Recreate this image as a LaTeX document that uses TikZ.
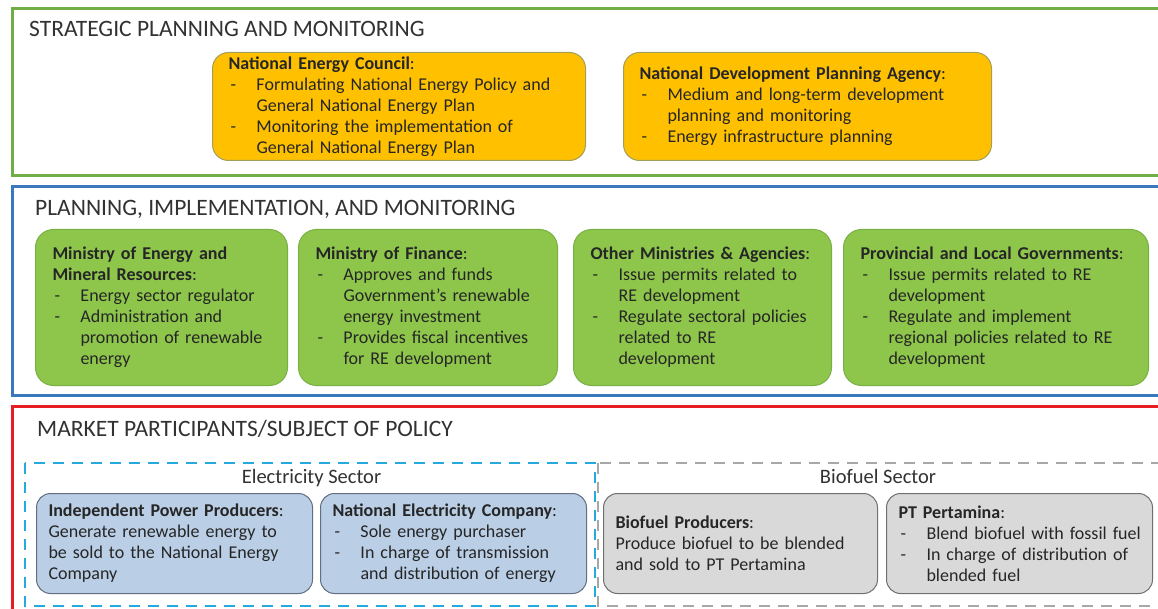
\documentclass[tikz,border=0pt]{standalone}
\usepackage{fontspec}
\setmainfont{Carlito}
\usetikzlibrary{positioning}

\definecolor{stratline}{RGB}{112,173,71}
\definecolor{implline}{RGB}{58,120,190}
\definecolor{marketline}{RGB}{230,30,36}
\definecolor{councilfill}{RGB}{255,192,0}
\definecolor{councilline}{RGB}{160,160,90}
\definecolor{ministryfill}{RGB}{141,198,75}
\definecolor{ministryline}{RGB}{120,176,68}
\definecolor{powerfill}{RGB}{186,206,230}
\definecolor{powerline}{RGB}{98,110,130}
\definecolor{fuelfill}{RGB}{217,217,217}
\definecolor{fuelline}{RGB}{112,112,112}
\definecolor{elecdash}{RGB}{38,170,222}
\definecolor{fueldash}{RGB}{168,168,168}
\definecolor{titletext}{RGB}{50,50,50}

\newcommand{\itemdash}{\makebox[28pt][l]{\hspace{2pt}-}}
\newcommand{\itemcont}{\hspace*{28pt}}
\newcommand{\orghead}[1]{\textbf{#1}:}

\begin{document}
\begin{tikzpicture}[
      x=1pt, y=-1pt,
      font=\fontsize{18}{21}\selectfont,
      text=black!85,
      panel/.style={line width=3pt},
      paneltitle/.style={anchor=base west, inner sep=0pt, text=titletext,
        font=\fontsize{23.5}{27}\selectfont},
      orgbox/.style={rounded corners=16pt, align=left, inner xsep=16pt,
        inner ysep=0pt},
      council/.style={orgbox, draw=councilline, fill=councilfill, line width=1pt,
        minimum height=108pt},
      ministry/.style={orgbox, rounded corners=18pt, draw=ministryline,
        fill=ministryfill, line width=1pt, minimum height=156pt, inner xsep=17pt},
      power/.style={orgbox, rounded corners=14pt, draw=powerline,
        fill=powerfill, line width=1pt, minimum height=100pt, inner xsep=12pt},
      fuel/.style={power, draw=fuelline, fill=fuelfill},
      sectortitle/.style={inner sep=0pt, text=titletext, anchor=base,
        yshift=10pt, font=\fontsize{20.5}{24}\selectfont},
      sectorbox/.style={line width=2.5pt, dash pattern=on 11pt off 8pt}
    ]
    \useasboundingbox (0,0) rectangle (1158,609);
    \clip (0,0) rectangle (1158,609);
    \fill[white] (0,0) rectangle (1158,609);

    % three layers
    \draw[panel, draw=stratline] (12,9) rectangle (1175,176);
    \draw[panel, draw=implline] (12,187) rectangle (1175,395);
    \draw[panel, draw=marketline] (12,406) rectangle (1175,620);
    \node[paneltitle] (strat) at (29,37) {STRATEGIC PLANNING AND MONITORING};
    \node[paneltitle] (impl) at (35,216) {PLANNING, IMPLEMENTATION, AND MONITORING};
    \node[paneltitle] (market) at (37,436) {MARKET PARTICIPANTS/SUBJECT OF POLICY};

    % strategic level
    \node[council, anchor=north west, text width=341pt] (den) at (212,52)
      {\orghead{National Energy Council}\\
       \itemdash Formulating National Energy Policy and\\
       \itemcont General National Energy Plan\\
       \itemdash Monitoring the implementation of\\
       \itemcont General National Energy Plan};
    \node[council, right=37pt of den, text width=336pt] (bappenas)
      {\orghead{National Development Planning Agency}\\
       \itemdash Medium and long-term development\\
       \itemcont planning and monitoring\\
       \itemdash Energy infrastructure planning};

    % implementing level
    \node[ministry, anchor=north west, text width=218pt] (memr) at (35,229)
      {\textbf{Ministry of Energy and}\\
       \orghead{Mineral Resources}\\
       \itemdash Energy sector regulator\\
       \itemdash Administration and\\
       \itemcont promotion of renewable\\
       \itemcont energy};
    \node[ministry, right=10pt of memr, text width=225pt] (mof)
      {\orghead{Ministry of Finance}\\
       \itemdash Approves and funds\\
       \itemcont Government's renewable\\
       \itemcont energy investment\\
       \itemdash Provides fiscal incentives\\
       \itemcont for RE development};
    \node[ministry, right=15pt of mof, text width=224pt] (others)
      {\orghead{Other Ministries \& Agencies}\\
       \itemdash Issue permits related to\\
       \itemcont RE development\\
       \itemdash Regulate sectoral policies\\
       \itemcont related to RE\\
       \itemcont development};
    \node[ministry, right=11pt of others, text width=271pt] (local)
      {\orghead{Provincial and Local Governments}\\
       \itemdash Issue permits related to RE\\
       \itemcont development\\
       \itemdash Regulate and implement\\
       \itemcont regional policies related to RE\\
       \itemcont development};

    % market participants
    \node[power, anchor=north west, text width=252pt] (ipp) at (36,493)
      {\orghead{Independent Power Producers}\\
       Generate renewable energy to\\
       be sold to the National Energy\\
       Company};
    \node[power, right=7pt of ipp, text width=242pt] (pln)
      {\orghead{National Electricity Company}\\
       \itemdash Sole energy purchaser\\
       \itemdash In charge of transmission\\
       \itemcont and distribution of energy};
    \node[fuel, anchor=north west, text width=250pt] (biofuel) at (603,493)
      {\orghead{Biofuel Producers}\\
       Produce biofuel to be blended\\
       and sold to PT Pertamina};
    \node[fuel, right=8pt of biofuel, text width=242pt] (pertamina)
      {\orghead{PT Pertamina}\\
       \itemdash \mbox{Blend biofuel with fossil fuel}\\
       \itemdash In charge of distribution of\\
       \itemcont blended fuel};

    \path (ipp.north west) -- node[sectortitle] (elec) {Electricity Sector}
      (pln.north east);
    \path (biofuel.north west) -- node[sectortitle] (bio) {Biofuel Sector}
      (pertamina.north east);
    \draw[sectorbox, draw=fueldash] ([xshift=-5pt, yshift=30pt]biofuel.north west)
      rectangle ([xshift=40pt, yshift=-12pt]pertamina.south east);
    \draw[sectorbox, draw=elecdash] ([xshift=-11pt, yshift=30pt]ipp.north west)
      rectangle ([xshift=8pt, yshift=-12pt]pln.south east);
  \end{tikzpicture}
\end{document}
